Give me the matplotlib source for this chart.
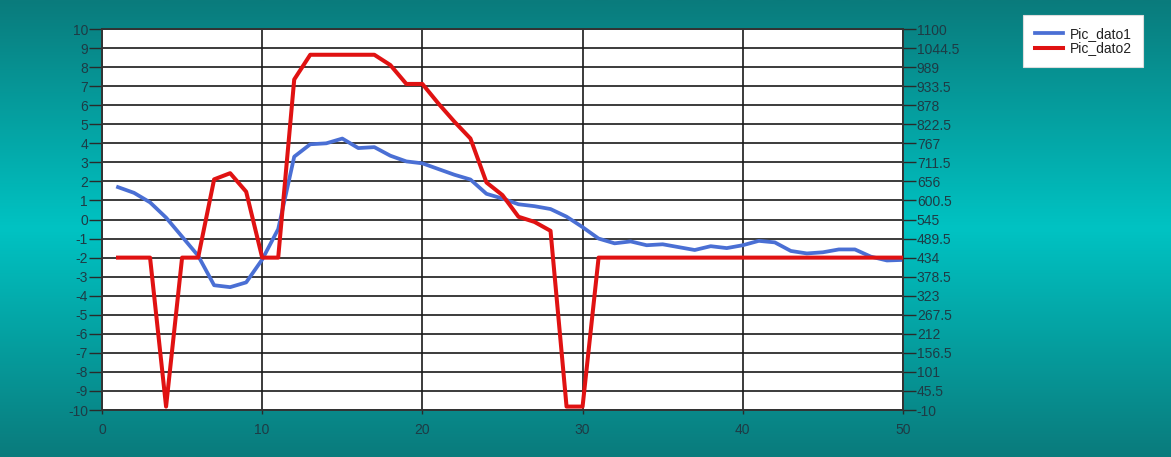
import numpy as np
import matplotlib
matplotlib.use("Agg")
import matplotlib.pyplot as plt
from matplotlib.colors import LinearSegmentedColormap

x_vals = list(range(1, 51))
pic_dato1 = [1.7, 1.4, 0.9, 0.1, -0.9, -1.9, -3.45, -3.55, -3.3, -2.1,
             -0.5, 3.3, 3.95, 4.0, 4.25, 3.75, 3.8, 3.35, 3.05, 2.95,
             2.65, 2.35, 2.1, 1.35, 1.1, 0.8, 0.7, 0.55, 0.15, -0.4,
             -1.0, -1.25, -1.15, -1.35, -1.3, -1.45, -1.6, -1.4, -1.5, -1.35,
             -1.12, -1.2, -1.65, -1.78, -1.72, -1.57, -1.57, -1.95, -2.15, -2.12]
pic_dato2 = [434, 434, 434, 0, 434, 434, 662, 680, 626, 434,
             434, 953, 1025, 1025, 1025, 1025, 1025, 995, 940, 940,
             883, 830, 781, 653, 616, 553, 538, 512, 0, 0,
             434, 434, 434, 434, 434, 434, 434, 434, 434, 434,
             434, 434, 434, 434, 434, 434, 434, 434, 434, 434]
left_ticks = list(range(-10, 11))
right_ticks = [-10, 45.5, 101, 156.5, 212, 267.5, 323, 378.5, 434, 489.5, 545,
               600.5, 656, 711.5, 767, 822.5, 878, 933.5, 989, 1044.5, 1100]
x_ticks = [0, 10, 20, 30, 40, 50]

plt.rcParams['font.family'] = ['Liberation Sans', 'DejaVu Sans']
plt.rcParams['axes.unicode_minus'] = False
fig = plt.figure(figsize=(11.71, 4.57), dpi=100)

# background gradient
bg = fig.add_axes([0, 0, 1, 1], zorder=-10)
cmap = LinearSegmentedColormap.from_list('bgc', ['#0a7b7c', '#00c3c3', '#0a7b7c'])
grad = np.linspace(0, 1, 256).reshape(-1, 1)
bg.imshow(grad, aspect='auto', cmap=cmap, extent=[0, 1, 0, 1])
bg.axis('off')

ax = fig.add_axes([0.0871, 0.1028, 0.684, 0.8337])
ax.set_facecolor('white')
ax.plot(x_vals, pic_dato1, color='#4a6fd4', lw=2.7, label='Pic_dato1', zorder=3, solid_joinstyle='round')
ax.set_xlim(0, 50)
ax.set_ylim(-10, 10)
ax.set_yticks(left_ticks)
ax.set_xticks(x_ticks)
ax.grid(True, color='#1a1a1a', lw=1.2)
ax.set_axisbelow(True)

ax2 = ax.twinx()
ax2.plot(x_vals, pic_dato2, color='#e01212', lw=2.9, label='Pic_dato2', zorder=3, solid_joinstyle='round')
ax2.set_ylim(-10, 1100)
ax2.set_yticks(right_ticks)
ax2.set_yticklabels([('%g' % v) for v in right_ticks])

tc = '#1e3b45'
for a in (ax, ax2):
    a.tick_params(axis='y', colors='#2a2a2a', labelcolor=tc, labelsize=10, length=9.5, width=1, pad=0.5)
    for s in a.spines.values():
        s.set_color('#333333')
        s.set_linewidth(1.2)
ax.tick_params(axis='x', colors='#2a2a2a', labelcolor=tc, labelsize=10, length=3, width=1, pad=6)

h1, l1 = ax.get_legend_handles_labels()
h2, l2 = ax2.get_legend_handles_labels()
leg = fig.legend(h1 + h2, l1 + l2, loc='upper left', bbox_to_anchor=(1023/1171, 1 - 15/457),
                 frameon=True, fancybox=False, framealpha=1, fontsize=10, handlelength=2.0,
                 borderpad=0.85, labelspacing=0.05, handletextpad=0.5, borderaxespad=0)
leg.get_frame().set_edgecolor('#dddddd')
leg.get_frame().set_linewidth(0.8)
for t in leg.get_texts():
    t.set_color('#222222')

fig.savefig('out.png', dpi=100)
